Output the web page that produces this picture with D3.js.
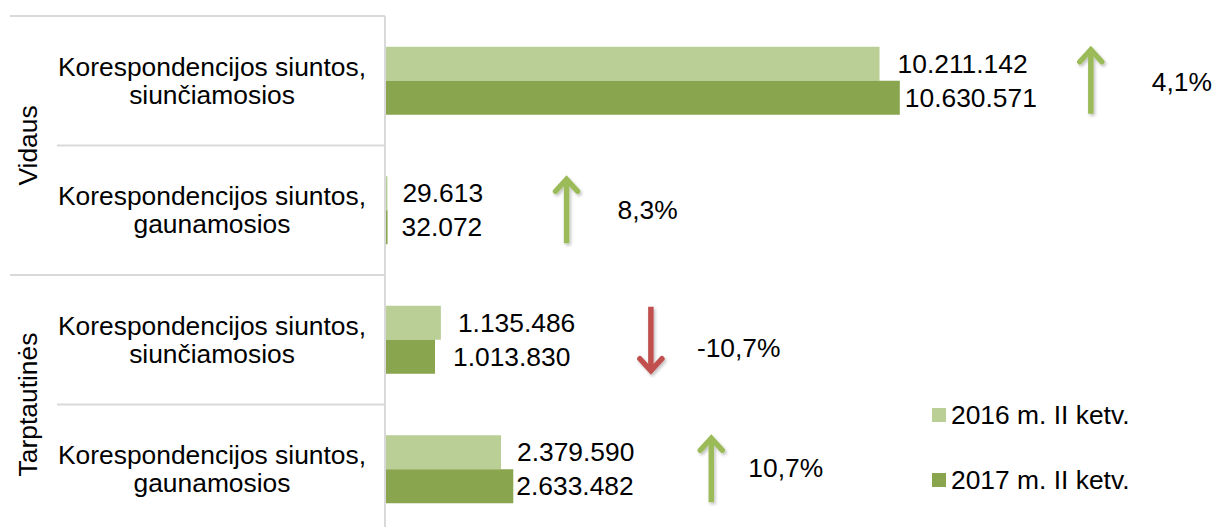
<!DOCTYPE html>
<html>
<head>
<meta charset="utf-8">
<script src="https://cdn.jsdelivr.net/npm/d3@7"></script>
<style>
  body { margin: 0; background: #fff; }
  svg { display: block; font-family: "Liberation Sans", Arial, sans-serif; }
</style>
</head>
<body>
<svg id="chart"></svg>
<script>
// data
var groups = ["Vidaus", "Tarptautinės"];
var categories = ["Vidaus siunčiamosios", "Vidaus gaunamosios", "Tarpt. siunčiamosios", "Tarpt. gaunamosios"];
var categoryLines = [
    ["Korespondencijos siuntos,", "siunčiamosios"],
    ["Korespondencijos siuntos,", "gaunamosios"],
    ["Korespondencijos siuntos,", "siunčiamosios"],
    ["Korespondencijos siuntos,", "gaunamosios"]
];
var categoryGroup = [0, 0, 1, 1];
var seriesNames = ["2016 m. II ketv.", "2017 m. II ketv."];
var values2016 = [10211142, 29613, 1135486, 2379590];
var values2017 = [10630571, 32072, 1013830, 2633482];

// layout
var svgWidth = 1212;
var svgHeight = 527;
var plotTop = 16;
var plotBottom = 534;
var axisX = 385;
var barThickness = 34;
var fontSize = 26.4;
var colors = ["#b9cf96", "#89a54e"];
var gridColor = "#d9d9d9";
var arrowGap = [191, 179, 210, 198];
var pctGap = [61, 51, 46, 37];
var pctDy = [1, 0, 8, -1];
var labelGap = [[18, 5], [15, 14], [17, 18], [16, 3]];

var numLocale = d3.formatLocale({ decimal: ",", thousands: ".", grouping: [3], currency: ["", ""], minus: "-" });
var fmtNum = numLocale.format(",d");
var fmtPct = numLocale.format(".1f");

var svg =
    d3.select("#chart")
    .attr("width", svgWidth)
    .attr("height", svgHeight);

var x = d3.scaleLinear()
    .domain([0, 12000000])
    .range([axisX + 1, axisX + 1 + 580]);

var y = d3.scaleBand()
    .domain(categories)
    .range([plotTop, plotBottom])
    .padding(0);

var step = y.bandwidth();
var ySeries = d3.scaleBand()
    .domain(seriesNames)
    .range([0, step])
    .paddingInner(0)
    .paddingOuter((step - 2 * barThickness) / 2 / barThickness);

// separator lines on category axis
categories.forEach(function (c, i) {
    var startX = (i === 0 || categoryGroup[i] !== categoryGroup[i - 1]) ? 10 : 57;
    svg.append("line")
        .attr("x1", startX)
        .attr("x2", axisX)
        .attr("y1", y(c))
        .attr("y2", y(c))
        .attr("stroke", gridColor)
        .attr("stroke-width", 2);
});

// axis line
svg.append("line")
    .attr("x1", axisX)
    .attr("x2", axisX)
    .attr("y1", plotTop)
    .attr("y2", svgHeight)
    .attr("stroke", gridColor)
    .attr("stroke-width", 2);

// group labels (rotated)
groups.forEach(function (g, gi) {
    var cats = categories.filter(function (c, i) { return categoryGroup[i] === gi; });
    var top = y(cats[0]);
    var bottom = y(cats[cats.length - 1]) + step;
    var cy = (top + bottom) / 2;
    svg.append("text")
        .attr("transform", "translate(28," + cy + ") rotate(-90)")
        .attr("text-anchor", "middle")
        .attr("dominant-baseline", "central")
        .attr("font-size", fontSize)
        .attr("fill", "#000")
        .text(g);
});

// category labels
categories.forEach(function (c, i) {
    var cy = y(c) + step / 2;
    var t = svg.append("text")
        .attr("text-anchor", "middle")
        .attr("font-size", fontSize)
        .attr("fill", "#000");
    categoryLines[i].forEach(function (line, li) {
        t.append("tspan")
            .attr("x", 212)
            .attr("y", cy - 5 + li * 28)
            .text(line);
    });
});

// bars
var seriesValues = [values2016, values2017];
seriesValues.forEach(function (vals, si) {
    svg.selectAll(".bar" + si)
        .data(vals)
        .enter()
        .append("rect")
        .attr("x", x(0))
        .attr("y", function (d, i) { return y(categories[i]) + ySeries(seriesNames[si]); })
        .attr("width", function (d) { return Math.max(1, x(d) - x(0)); })
        .attr("height", barThickness)
        .attr("fill", colors[si]);

    svg.selectAll(".lbl" + si)
        .data(vals)
        .enter()
        .append("text")
        .attr("x", function (d, i) { return x(d) + labelGap[i][si]; })
        .attr("y", function (d, i) { return y(categories[i]) + ySeries(seriesNames[si]) + barThickness / 2; })
        .attr("dominant-baseline", "central")
        .attr("font-size", fontSize)
        .attr("fill", "#000")
        .text(function (d) { return fmtNum(d); });
});

// shadow for arrows
var defs = svg.append("defs");
var filter = defs.append("filter")
    .attr("id", "shadow")
    .attr("x", "-50%").attr("y", "-20%")
    .attr("width", "200%").attr("height", "140%");
filter.append("feDropShadow")
    .attr("dx", 1.5)
    .attr("dy", 2)
    .attr("stdDeviation", 1.5)
    .attr("flood-color", "#000")
    .attr("flood-opacity", 0.25);

// change arrows and percentages
categories.forEach(function (c, i) {
    var change = (values2017[i] / values2016[i] - 1) * 100;
    var up = change >= 0;
    var color = up ? "#9bbb59" : "#c0504d";
    var cy = y(c) + step / 2;
    var ax = x(Math.max(values2016[i], values2017[i])) + arrowGap[i];
    var half = 33;
    var tipY = up ? cy - half : cy + half;
    var endY = up ? cy + half : cy - half;
    var dir = up ? 1 : -1;

    var arrow = svg.append("g")
        .attr("filter", "url(#shadow)")
        .attr("stroke", color)
        .attr("stroke-width", 5.5)
        .attr("fill", "none");
    arrow.append("line")
        .attr("x1", ax).attr("x2", ax)
        .attr("y1", tipY + dir * 2).attr("y2", endY);
    arrow.append("path")
        .attr("d", "M" + (ax - 11) + "," + (tipY + dir * 14) +
            " L" + ax + "," + (tipY + dir * 2) +
            " L" + (ax + 11) + "," + (tipY + dir * 14))
        .attr("stroke-linejoin", "miter")
        .attr("stroke-linecap", "round");

    svg.append("text")
        .attr("x", ax + pctGap[i])
        .attr("y", cy + pctDy[i])
        .attr("dominant-baseline", "central")
        .attr("font-size", fontSize)
        .attr("fill", "#000")
        .text(fmtPct(change) + "%");
});

// legend
seriesNames.forEach(function (s, si) {
    var ly = 415 + si * 65;
    svg.append("rect")
        .attr("x", 932)
        .attr("y", ly - 7)
        .attr("width", 14)
        .attr("height", 14)
        .attr("fill", colors[si]);
    svg.append("text")
        .attr("x", 951)
        .attr("y", ly)
        .attr("dominant-baseline", "central")
        .attr("font-size", fontSize)
        .attr("fill", "#000")
        .text(s);
});
</script>
</body>
</html>
